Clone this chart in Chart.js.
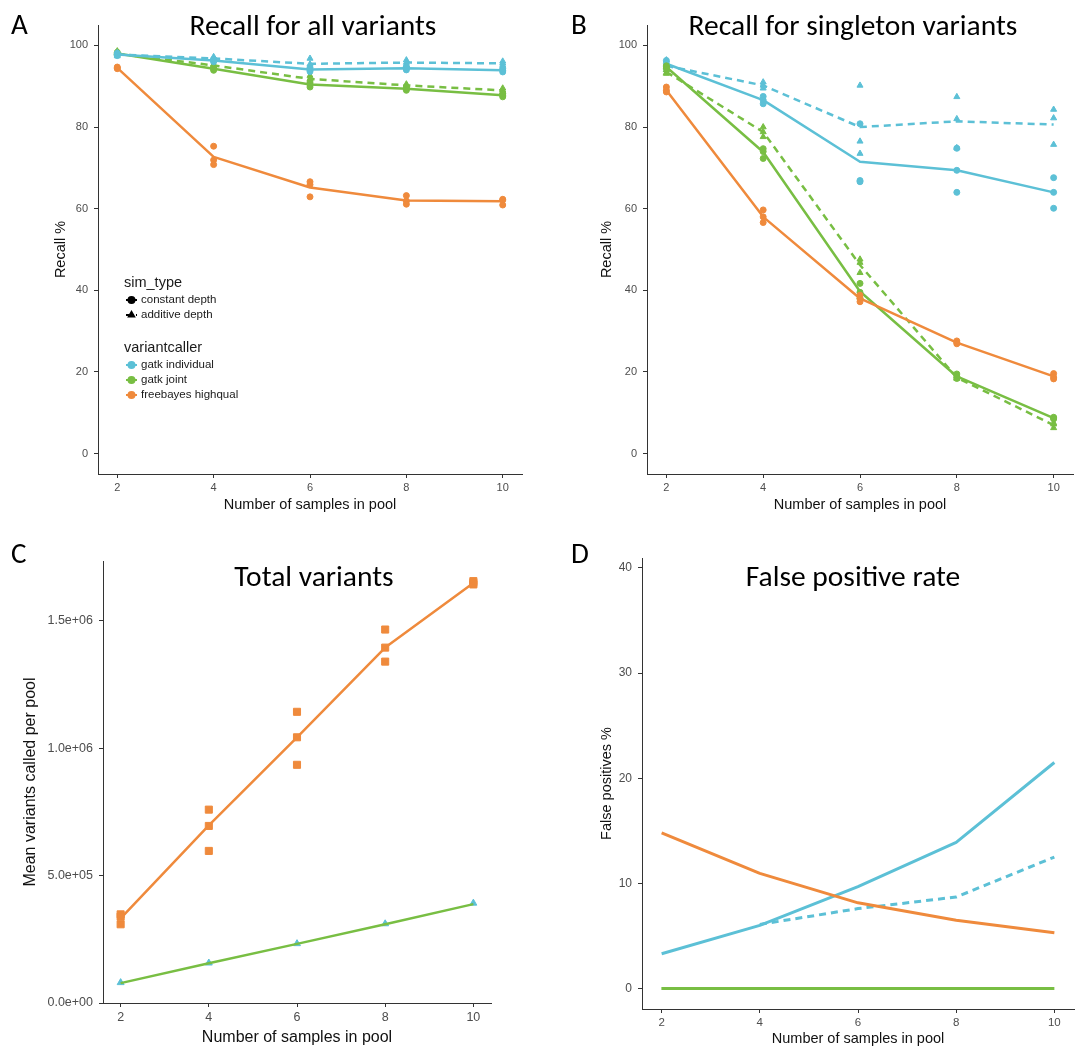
<!DOCTYPE html>
<html>
<head>
<meta charset="utf-8">
<title>Pooled variant calling</title>
<script src="https://cdn.jsdelivr.net/npm/chart.js@4.4.1/dist/chart.umd.min.js"></script>
<style>
    body { margin: 0; background: #fff; }
    #wrap { position: relative; width: 1085px; height: 1050px; overflow: hidden; }
    #wrap canvas { position: absolute; }
    .letter, .title { position: absolute; font-family: Carlito, Lato, "Open Sans", sans-serif; line-height: 1; color: #000; }
    .letter { font-size: 29px; }
    .title { width: 440px; text-align: center; font-size: 29.5px; }
</style>
</head>
<body>
<div id="wrap">
    <canvas id="panelA" width="545" height="530" style="left:0;top:0"></canvas>
    <canvas id="panelB" width="540" height="530" style="left:545px;top:0"></canvas>
    <canvas id="panelC" width="545" height="520" style="left:0;top:530px"></canvas>
    <canvas id="panelD" width="540" height="520" style="left:545px;top:530px"></canvas>

    <div class="letter" style="left:11px;top:10px">A</div>
    <div class="letter" style="left:571px;top:10px">B</div>
    <div class="letter" style="left:11px;top:539px">C</div>
    <div class="letter" style="left:571px;top:539px">D</div>

    <div class="title" style="left:93px;top:11px">Recall for all variants</div>
    <div class="title" style="left:633px;top:11px">Recall for singleton variants</div>
    <div class="title" style="left:94px;top:562px">Total variants</div>
    <div class="title" style="left:633px;top:562px">False positive rate</div>
</div>

<script>
// ---- data ----
const poolSizes = [2, 4, 6, 8, 10];

const simTypes = ['constant depth', 'additive depth'];
const callers = ['gatk individual', 'gatk joint', 'freebayes highqual'];

// A: recall for all variants (means, then the three replicates per pool size)
const allIndivConstant = [97.8, 96.3, 94.1, 94.4, 93.9];
const allIndivAdditive = [97.8, 96.8, 95.5, 95.8, 95.6];
const allJointConstant = [98.0, 94.3, 90.4, 89.4, 87.8];
const allJointAdditive = [98.0, 95.1, 91.8, 90.2, 89.0];
const allFreebayesConstant = [94.5, 72.7, 65.2, 62.0, 61.8];

const allIndivConstantReps = [[97.5, 97.8, 98.1], [96.0, 96.3, 96.6], [93.6, 94.1, 94.6], [94.0, 94.4, 94.8], [93.5, 93.9, 94.3]];
const allIndivAdditiveReps = [[97.4, 97.8, 98.2], [96.4, 96.8, 97.2], [94.3, 95.4, 96.8], [95.2, 95.8, 96.4], [95.1, 95.6, 96.1]];
const allJointConstantReps = [[97.7, 98.0, 98.3], [93.9, 94.3, 94.7], [89.8, 90.4, 91.0], [89.0, 89.4, 89.8], [87.4, 87.8, 88.2]];
const allJointAdditiveReps = [[97.9, 98.2, 98.6], [94.8, 95.1, 95.4], [91.0, 91.8, 92.6], [89.9, 90.2, 90.5], [88.5, 89.0, 89.5]];
const allFreebayesConstantReps = [[94.3, 94.5, 94.7], [75.3, 71.9, 70.8], [66.6, 65.9, 62.9], [63.2, 61.9, 61.1], [62.1, 62.3, 60.9]];

// B: recall for singleton variants
const singIndivConstant = [95.5, 86.6, 71.5, 69.4, 64.0];
const singIndivAdditive = [95.0, 90.2, 80.0, 81.4, 80.6];
const singJointConstant = [94.7, 73.9, 39.7, 18.9, 8.7];
const singJointAdditive = [93.5, 78.8, 46.2, 18.6, 7.0];
const singFreebayesConstant = [89.0, 58.0, 38.0, 27.2, 18.9];

const singIndivConstantReps = [[96.3, 95.5, 94.8], [87.5, 86.6, 85.7], [80.8, 66.9, 66.6], [74.8, 69.4, 64.0], [67.6, 64.0, 60.1]];
const singIndivAdditiveReps = [[96.4, 94.6, 94.0], [91.0, 90.2, 89.5], [90.2, 76.5, 73.5], [87.4, 82.0, 74.9], [84.3, 82.2, 75.7]];
const singJointConstantReps = [[95.0, 94.7, 94.4], [74.7, 74.0, 72.3], [41.7, 39.5, 38.0], [19.5, 18.9, 18.4], [8.9, 8.7, 8.5]];
const singJointAdditiveReps = [[94.0, 93.3, 93.1], [80.0, 78.8, 77.6], [47.6, 46.8, 44.3], [19.0, 18.5, 18.4], [7.5, 7.2, 6.3]];
const singFreebayesConstantReps = [[89.8, 89.0, 88.6], [59.7, 58.0, 56.6], [38.8, 38.0, 37.2], [27.6, 27.2, 26.9], [19.6, 18.7, 18.3]];

// C: mean variants called per pool
const totalFreebayes = [332000, 697000, 1043000, 1395000, 1649000];
const totalFreebayesReps = [[348000, 339000, 309000], [759000, 695000, 597000], [1143000, 1043000, 935000], [1466000, 1395000, 1340000], [1656000, 1649000, 1643000]];
const totalJoint = [78000, 156000, 232000, 309000, 388000];
const totalIndivAdditive = [80000, 157000, 233000, 311000, 392000];

// D: false positive rate (dashed individual curve only drawn from 4 samples on)
const fpIndivConstant = [3.3, 6.0, 9.7, 13.9, 21.5];
const fpIndivAdditive = [null, 6.1, 7.6, 8.7, 12.5];
const fpJointConstant = [0, 0, 0, 0, 0];
const fpJointAdditive = [0, 0, 0, 0, 0];
const fpFreebayesConstant = [14.8, 10.95, 8.15, 6.5, 5.3];

// tick marks
const recallTicks = [0, 20, 40, 60, 80, 100];
const totalTicks = [0, 500000, 1000000, 1500000];
const totalTickLabels = ['0.0e+00', '5.0e+05', '1.0e+06', '1.5e+06'];
const fpTicks = [0, 10, 20, 30, 40];

// ---- styling ----
const BLUE = '#5cc0d6';
const GREEN = '#78be43';
const ORANGE = '#ef8a3c';
const callerColors = [BLUE, GREEN, ORANGE];
const DASH = [7, 5];

Chart.defaults.font.family = '"Liberation Sans", Arial, sans-serif';
Chart.defaults.animation = false;

function xy(values) {
    return poolSizes.map((x, i) => ({ x: x, y: values[i] }));
}

function repPoints(reps) {
    const pts = [];
    poolSizes.forEach((x, i) => reps[i].forEach(y => pts.push({ x: x, y: y })));
    return pts;
}

function lineSet(values, color, dashed, width) {
    return {
        data: xy(values),
        showLine: true,
        spanGaps: false,
        borderColor: color,
        borderWidth: width || 2.5,
        borderDash: dashed ? DASH : [],
        borderJoinStyle: 'round',
        pointRadius: 0,
        tension: 0
    };
}

function pointSet(data, color, style, radius) {
    return {
        data: data,
        showLine: false,
        pointStyle: style,
        pointRadius: radius || 3,
        backgroundColor: color,
        borderColor: color,
        borderWidth: 1
    };
}

// ggplot-like axes: plain axis lines, short outward ticks, no grid
function buildScales(o) {
    return {
        x: {
            type: 'linear',
            min: 1.6,
            max: 10.4,
            afterBuildTicks: s => { s.ticks = poolSizes.map(v => ({ value: v })); },
            afterFit: s => { s.height = o.xHeight; },
            grid: { drawOnChartArea: false, drawTicks: true, tickLength: 4, tickColor: '#333', tickWidth: 1 },
            border: { color: '#333', width: 1 },
            ticks: { color: '#4d4d4d', font: { size: o.xTickSize || 11 }, padding: 3, autoSkip: false, maxRotation: 0 },
            title: {
                display: true, text: 'Number of samples in pool', color: '#111',
                font: { size: o.xTitleSize || 14.5 }, padding: { top: 0, bottom: o.xTitlePad }
            }
        },
        y: {
            type: 'linear',
            min: o.yMin,
            max: o.yMax,
            afterBuildTicks: s => { s.ticks = o.yTicks.map(v => ({ value: v })); },
            afterFit: s => { s.width = o.yWidth; },
            grid: { drawOnChartArea: false, drawTicks: true, tickLength: 4, tickColor: '#333', tickWidth: 1 },
            border: { color: '#333', width: 1 },
            ticks: {
                color: '#4d4d4d', font: { size: o.yTickSize || 11 }, padding: 6,
                callback: o.yLabel || (v => v)
            },
            title: {
                display: true, text: o.yTitle, color: '#111',
                font: { size: o.yTitleSize || 14.5 }, padding: { top: o.yTitlePad, bottom: 0 }
            }
        }
    };
}

function baseOptions(o) {
    return {
        responsive: false,
        devicePixelRatio: 1,
        animation: false,
        layout: { padding: { left: 0, top: o.top, right: o.right, bottom: 0 } },
        plugins: { legend: { display: false }, tooltip: { enabled: false } },
        scales: buildScales(o)
    };
}

// legend block inside panel A
const simCallerLegend = {
    id: 'simCallerLegend',
    afterDraw(chart) {
        const ctx = chart.ctx;
        const glyph = (y, color, style, dashed) => {
            ctx.save();
            ctx.strokeStyle = color;
            ctx.fillStyle = color;
            ctx.lineWidth = 2;
            ctx.setLineDash(dashed ? [3, 2] : []);
            ctx.beginPath();
            ctx.moveTo(126, y);
            ctx.lineTo(137, y);
            ctx.stroke();
            ctx.setLineDash([]);
            Chart.helpers.drawPoint(ctx, { pointStyle: style, radius: 3, rotation: 0, borderWidth: 1 }, 131.5, y);
            ctx.restore();
        };
        ctx.save();
        ctx.textBaseline = 'middle';
        ctx.fillStyle = '#1a1a1a';
        ctx.font = '14.5px "Liberation Sans", Arial, sans-serif';
        ctx.fillText('sim_type', 124, 283);
        ctx.fillText('variantcaller', 124, 348);
        ctx.font = '11.5px "Liberation Sans", Arial, sans-serif';
        simTypes.forEach((label, i) => {
            const y = 300 + i * 15;
            glyph(y, '#000', i === 0 ? 'circle' : 'triangle', i === 1);
            ctx.fillStyle = '#1a1a1a';
            ctx.fillText(label, 141, y);
        });
        callers.forEach((label, i) => {
            const y = 365 + i * 15;
            glyph(y, callerColors[i], 'circle', false);
            ctx.fillStyle = '#1a1a1a';
            ctx.fillText(label, 141, y);
        });
        ctx.restore();
    }
};

// ---- panel A ----
new Chart(document.getElementById('panelA'), {
    type: 'scatter',
    data: {
        datasets: [
            lineSet(allFreebayesConstant, ORANGE, false),
            pointSet(repPoints(allFreebayesConstantReps), ORANGE, 'circle'),
            lineSet(allIndivConstant, BLUE, false),
            lineSet(allIndivAdditive, BLUE, true),
            pointSet(repPoints(allIndivConstantReps), BLUE, 'circle'),
            pointSet(repPoints(allIndivAdditiveReps), BLUE, 'triangle', 3.5),
            lineSet(allJointConstant, GREEN, false),
            lineSet(allJointAdditive, GREEN, true),
            pointSet(repPoints(allJointConstantReps), GREEN, 'circle'),
            pointSet(repPoints(allJointAdditiveReps), GREEN, 'triangle', 3.5)
        ]
    },
    options: baseOptions({
        top: 25, right: 23, xHeight: 56, xTitlePad: 16,
        yMin: -5, yMax: 105, yTicks: recallTicks, yWidth: 98,
        yTitle: 'Recall %', yTitlePad: 52
    }),
    plugins: [simCallerLegend]
});

// ---- panel B ----
new Chart(document.getElementById('panelB'), {
    type: 'scatter',
    data: {
        datasets: [
            lineSet(singFreebayesConstant, ORANGE, false),
            pointSet(repPoints(singFreebayesConstantReps), ORANGE, 'circle'),
            lineSet(singJointConstant, GREEN, false),
            lineSet(singJointAdditive, GREEN, true),
            pointSet(repPoints(singJointConstantReps), GREEN, 'circle'),
            pointSet(repPoints(singJointAdditiveReps), GREEN, 'triangle', 3.5),
            lineSet(singIndivConstant, BLUE, false),
            lineSet(singIndivAdditive, BLUE, true),
            pointSet(repPoints(singIndivConstantReps), BLUE, 'circle'),
            pointSet(repPoints(singIndivAdditiveReps), BLUE, 'triangle', 3.5)
        ]
    },
    options: baseOptions({
        top: 25, right: 12, xHeight: 56, xTitlePad: 16,
        yMin: -5, yMax: 105, yTicks: recallTicks, yWidth: 102,
        yTitle: 'Recall %', yTitlePad: 53
    })
});

// ---- panel C ----
new Chart(document.getElementById('panelC'), {
    type: 'scatter',
    data: {
        datasets: [
            lineSet(totalFreebayes, ORANGE, false),
            pointSet(repPoints(totalFreebayesReps), ORANGE, 'rect', 5),
            lineSet(totalJoint, GREEN, false),
            pointSet(xy(totalIndivAdditive), BLUE, 'triangle', 4)
        ]
    },
    options: baseOptions({
        top: 31, right: 54, xHeight: 47, xTitlePad: 3, xTitleSize: 16, xTickSize: 12.5,
        yMin: 0, yMax: 1735000, yTicks: totalTicks, yWidth: 103,
        yLabel: v => totalTickLabels[totalTicks.indexOf(v)],
        yTickSize: 12.5, yTitle: 'Mean variants called per pool', yTitleSize: 16, yTitlePad: 21
    })
});

// ---- panel D ----
new Chart(document.getElementById('panelD'), {
    type: 'scatter',
    data: {
        datasets: [
            lineSet(fpJointConstant, GREEN, false, 3),
            lineSet(fpJointAdditive, GREEN, true, 3),
            lineSet(fpFreebayesConstant, ORANGE, false, 3),
            lineSet(fpIndivAdditive, BLUE, true, 3),
            lineSet(fpIndivConstant, BLUE, false, 3)
        ]
    },
    options: baseOptions({
        top: 28, right: 11, xHeight: 41, xTitlePad: 2, xTickSize: 11.5,
        yMin: -1.95, yMax: 40.95, yTicks: fpTicks, yWidth: 97, yTickSize: 12,
        yTitle: 'False positives %', yTitlePad: 53
    })
});
</script>
</body>
</html>
